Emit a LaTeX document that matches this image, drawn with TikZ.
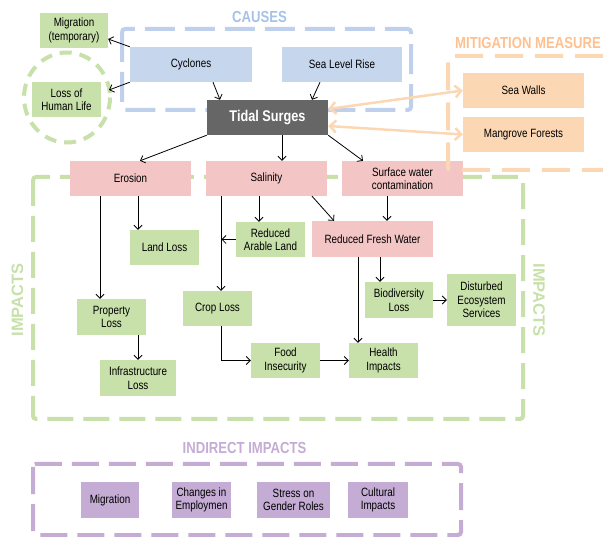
\documentclass[tikz,border=0pt]{standalone}
\usepackage{fontspec}
\setmainfont{Liberation Sans}
\newfontfamily\nar[FakeStretch=0.82]{Liberation Sans}
\usetikzlibrary{arrows.meta}
\definecolor{cblue}{RGB}{198,214,236}
\definecolor{cbluedash}{RGB}{190,208,236}
\definecolor{cbluetxt}{RGB}{166,194,232}
\definecolor{cgreen}{RGB}{200,224,170}
\definecolor{cpink}{RGB}{243,197,197}
\definecolor{corange}{RGB}{252,215,180}
\definecolor{corangetxt}{RGB}{255,192,143}
\definecolor{cpurple}{RGB}{196,172,212}
\definecolor{cgray}{RGB}{102,102,102}
\tikzset{
  bx/.style={rectangle, inner sep=1pt, align=center, text=black,
    font=\nar\fontsize{12}{13.5}\selectfont},
  arr/.style={-{Straight Barb[length=4pt,width=8pt]}, line width=0.8pt, black},
  oarr/.style={{Straight Barb[length=6pt,width=12pt]}-{Straight Barb[length=6pt,width=12pt]}, line width=2.5pt, corange},
  dashbox/.style={line width=4pt, dash pattern=on 28pt off 10pt, rounded corners=3pt},
  ttl/.style={font=\nar\bfseries\fontsize{16}{18}\selectfont, inner sep=0pt}
}
\begin{document}
\begin{tikzpicture}[x=1pt,y=-1pt]
\useasboundingbox (0,0) rectangle (603,537);

% dashed groups
\draw[dashbox, cbluedash, dash pattern=on 30pt off 10pt] (122,29) rectangle (411,110);
\draw[dashbox, cgreen, dash pattern=on 26pt off 10pt] (33,177) rectangle (523,419);
\draw[dashbox, cpurple, dash pattern=on 27pt off 10pt] (33,464) rectangle (461,535);
\draw[line width=4pt, cgreen, dash pattern=on 12pt off 8pt] (67,97.5) ellipse (43 and 45);

% titles
\node[ttl, text=cbluetxt] (tcause) at (259.5,17) {CAUSES};
\node[ttl, text=corangetxt] (tmit) at (528,42.5) {MITIGATION MEASURE};
\node[ttl, text=cpurple] (tind) at (244.5,448) {INDIRECT IMPACTS};
\node[font=\bfseries\fontsize{16.5}{18}\selectfont, text=cgreen, rotate=90, inner sep=0pt] (timpl) at (17.5,300) {IMPACTS};
\node[font=\bfseries\fontsize{16.5}{18}\selectfont, text=cgreen, rotate=-90, inner sep=0pt] (timpr) at (539,300) {IMPACTS};

% nodes
\node[bx, fill=cgreen, minimum width=68pt, minimum height=35pt] (mig) at (74,30.5) {Migration\\(temporary)};
\node[bx, fill=cgreen, minimum width=69pt, minimum height=35pt] (loss) at (66.5,99.5) {Loss of\\Human Life};
\node[bx, fill=cblue, minimum width=122pt, minimum height=35pt] (cyc) at (191,64.5) {Cyclones};
\node[bx, fill=cblue, minimum width=120pt, minimum height=35pt] (slr) at (342,64.5) {Sea Level Rise};
\node[bx, fill=cgray, minimum width=121pt, minimum height=35pt, text=white, font=\nar\bfseries\fontsize{15.5}{17}\selectfont] (tidal) at (267.5,117.5) {Tidal Surges};
\node[bx, fill=corange, minimum width=121pt, minimum height=35pt] (sw) at (523.5,90.5) {Sea Walls};
\node[bx, fill=corange, minimum width=121pt, minimum height=35pt] (mang) at (523.5,134.5) {Mangrove Forests};

\node[bx, fill=cpink, minimum width=121pt, minimum height=35pt] (ero) at (130.5,178.5) {Erosion};
\node[bx, fill=cpink, minimum width=121pt, minimum height=35pt] (sal) at (266.5,178.5) {Salinity};
\node[bx, fill=cpink, minimum width=121pt, minimum height=35pt] (surf) at (402.5,178.5) {Surface water\\contamination};

\node[bx, fill=cgreen, minimum width=69pt, minimum height=35pt] (land) at (164.5,247.5) {Land Loss};
\node[bx, fill=cgreen, minimum width=69pt, minimum height=35pt] (ral) at (270.5,239.5) {Reduced\\Arable Land};
\node[bx, fill=cpink, minimum width=121pt, minimum height=36pt] (rfw) at (372.5,239) {Reduced Fresh Water};
\node[bx, fill=cgreen, minimum width=69pt, minimum height=36pt] (prop) at (111.5,317) {Property\\Loss};
\node[bx, fill=cgreen, minimum width=76pt, minimum height=36pt] (infra) at (138,378) {Infrastructure\\Loss};
\node[bx, fill=cgreen, minimum width=69pt, minimum height=35pt] (crop) at (217.5,308.5) {Crop Loss};
\node[bx, fill=cgreen, minimum width=69pt, minimum height=35pt] (food) at (285.5,360.5) {Food\\Insecurity};
\node[bx, fill=cgreen, minimum width=68pt, minimum height=36pt] (bio) at (399,300) {Biodiversity\\Loss};
\node[bx, fill=cgreen, minimum width=69pt, minimum height=52pt] (dist) at (481.5,300) {Disturbed\\Ecosystem\\Services};
\node[bx, fill=cgreen, minimum width=69pt, minimum height=35pt] (health) at (383.5,360.5) {Health\\Impacts};

\node[bx, fill=cpurple, minimum width=58pt, minimum height=36pt] (imig) at (110,500) {Migration};
\node[bx, fill=cpurple, minimum width=59pt, minimum height=36pt] (emp) at (201.5,500) {Changes in\\Employmen};
\node[bx, fill=cpurple, minimum width=73pt, minimum height=36pt] (gen) at (293.5,500) {Stress on\\Gender Roles};
\node[bx, fill=cpurple, minimum width=60pt, minimum height=36pt] (cult) at (378,500) {Cultural\\Impacts};

% mitigation group (drawn over the contamination box)
\draw[line width=4pt, corange, dash pattern=on 28pt off 12pt, rounded corners=3pt] (603,56) -- (448,56) -- (448,170) -- (603,170);

% connectors
\draw[arr] (cyc.north west) -- ([yshift=-8.5pt]mig.east);
\coordinate (lossend) at (109,90);
\draw[arr] (cyc.south west) -- (lossend);
\draw[arr] ([xshift=22pt]cyc.south) -- ([xshift=-47.5pt]tidal.north);
\draw[arr] ([xshift=-22pt]slr.south) -- ([xshift=44.5pt]tidal.north);
\draw[arr] (tidal.south west) -- ([xshift=9.5pt]ero.north);
\draw[arr] ([xshift=14.5pt]tidal.south) -- ([xshift=15.5pt]sal.north);
\draw[arr] (tidal.south east) -- ([xshift=-39.5pt]surf.north);

\draw[arr] ([xshift=7.5pt]ero.south) -- ([xshift=-26.5pt]land.north);
\draw[arr] ([xshift=-30.5pt]ero.south) -- ([xshift=-11.5pt]prop.north);
\draw[arr] ([xshift=26.5pt]prop.south) -- (infra.north);
\draw[arr] ([xshift=-7.5pt]sal.south) -- ([xshift=-11.5pt]ral.north);
\draw[arr] ([xshift=-45.5pt]sal.south) -- ([xshift=3.5pt]crop.north);
\coordinate (j1) at (221.5,239.5);
\draw[arr] (ral.west) -- (j1);
\draw[arr] ([xshift=3.5pt]crop.south) |- (food.west);
\draw[arr] ([xshift=45.5pt]sal.south) -- ([xshift=-38.5pt]rfw.north);
\draw[arr] ([xshift=-15.5pt]surf.south) -- ([xshift=14.5pt]rfw.north);
\draw[arr] ([xshift=7.5pt]rfw.south) -- ([xshift=-19pt]bio.north);
\draw[arr] ([xshift=-14.5pt]rfw.south) -- ([xshift=-25.5pt]health.north);
\draw[arr] (bio.east) -- (dist.west);
\draw[arr] (food.east) -- (health.west);

\draw[oarr] ([yshift=8.5pt]tidal.east) -- (sw.west);
\draw[oarr] ([yshift=-8.5pt]tidal.east) -- (mang.west);
\end{tikzpicture}
\end{document}
